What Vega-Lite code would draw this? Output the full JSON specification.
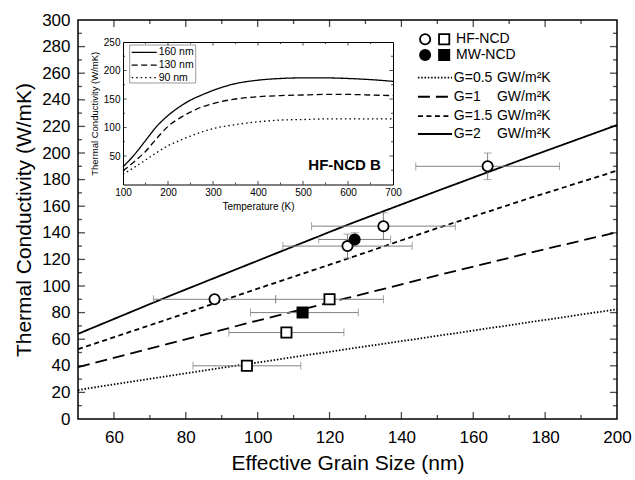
{
"$schema": "https://vega.github.io/schema/vega-lite/v6.json",
"width": 539, "height": 399,
"autosize": "none",
"padding": {"left": 78, "top": 20, "right": 18, "bottom": 61},
"background": "white",
"config": {"font": "Liberation Sans", "view": {"stroke": "black", "strokeWidth": 1.5},
  "axis": {"grid": false, "labelColor": "black", "titleColor": "black", "domainColor": "black", "tickColor": "black", "titleFontWeight": "normal", "labelOverlap": false}},
"datasets": {
 "glines": [
  {"g":"0.5","d":50,"k":21.8},{"g":"0.5","d":75,"k":32.3},{"g":"0.5","d":100,"k":42.5},{"g":"0.5","d":125,"k":52.6},{"g":"0.5","d":150,"k":62.5},{"g":"0.5","d":175,"k":72.5},{"g":"0.5","d":200,"k":82.5},
  {"g":"1","d":50,"k":39},{"g":"1","d":75,"k":56.5},{"g":"1","d":100,"k":74},{"g":"1","d":125,"k":91},{"g":"1","d":150,"k":108},{"g":"1","d":175,"k":124.5},{"g":"1","d":200,"k":140.4},
  {"g":"1.5","d":50,"k":52.5},{"g":"1.5","d":75,"k":75},{"g":"1.5","d":100,"k":98},{"g":"1.5","d":125,"k":120.5},{"g":"1.5","d":150,"k":143.5},{"g":"1.5","d":175,"k":165.5},{"g":"1.5","d":200,"k":186.7},
  {"g":"2","d":50,"k":64},{"g":"2","d":75,"k":92},{"g":"2","d":100,"k":119},{"g":"2","d":125,"k":146},{"g":"2","d":150,"k":171.5},{"g":"2","d":175,"k":196.5},{"g":"2","d":200,"k":221}
 ],
 "pts": [
  {"grp":"HF","shp":"circle","d":88,"k":90,"dlo":71,"dhi":105,"klo":87,"khi":93},
  {"grp":"HF","shp":"circle","d":125,"k":130,"dlo":107,"dhi":143,"klo":121,"khi":139},
  {"grp":"HF","shp":"circle","d":135,"k":145,"dlo":115,"dhi":155,"klo":135,"khi":155},
  {"grp":"HF","shp":"circle","d":164,"k":190,"dlo":144,"dhi":184,"klo":180,"khi":200},
  {"grp":"HF","shp":"square","d":97,"k":40,"dlo":82,"dhi":112,"klo":38,"khi":42},
  {"grp":"HF","shp":"square","d":108,"k":65,"dlo":92,"dhi":124,"klo":62,"khi":68},
  {"grp":"HF","shp":"square","d":120,"k":90,"dlo":105,"dhi":135,"klo":87,"khi":93},
  {"grp":"MW","shp":"circle","d":127,"k":135,"dlo":117,"dhi":137,"klo":130,"khi":140},
  {"grp":"MW","shp":"square","d":112.5,"k":80,"dlo":98,"dhi":128,"klo":77,"khi":83}
 ],
 "legpts": [
  {"grp":"HF","shp":"circle","d":146.6,"k":285.5},{"grp":"HF","shp":"square","d":151.9,"k":285.5},
  {"grp":"MW","shp":"circle","d":146.6,"k":273.7},{"grp":"MW","shp":"square","d":151.9,"k":273.7}
 ],
 "legtxt": [
  {"t":"HF-NCD","d":155.2,"k":285.5},{"t":"MW-NCD","d":155.2,"k":273.7},
  {"t":"G=0.5","d":154.6,"k":256.6},{"t":"GW/m²K","d":166.6,"k":256.6},
  {"t":"G=1","d":154.6,"k":242.3},{"t":"GW/m²K","d":166.6,"k":242.3},
  {"t":"G=1.5","d":154.6,"k":227.8},{"t":"GW/m²K","d":166.6,"k":227.8},
  {"t":"G=2","d":154.6,"k":214.3},{"t":"GW/m²K","d":166.6,"k":214.3}
 ],
 "legline": [
  {"g":"0.5","d":144.6,"k":256.6},{"g":"0.5","d":154.1,"k":256.6},
  {"g":"1","d":144.6,"k":242.3},{"g":"1","d":154.1,"k":242.3},
  {"g":"1.5","d":144.6,"k":227.8},{"g":"1.5","d":154.1,"k":227.8},
  {"g":"2","d":144.6,"k":214.3},{"g":"2","d":154.1,"k":214.3}
 ],
 "inset": [
  {"s":"160 nm","T":100,"k":31},{"s":"160 nm","T":125,"k":52},{"s":"160 nm","T":150,"k":77},{"s":"160 nm","T":175,"k":102},{"s":"160 nm","T":200,"k":121},{"s":"160 nm","T":225,"k":136},{"s":"160 nm","T":250,"k":148},{"s":"160 nm","T":275,"k":157},{"s":"160 nm","T":300,"k":165},{"s":"160 nm","T":350,"k":177},{"s":"160 nm","T":400,"k":183},{"s":"160 nm","T":450,"k":186},{"s":"160 nm","T":500,"k":187},{"s":"160 nm","T":550,"k":187},{"s":"160 nm","T":600,"k":186},{"s":"160 nm","T":650,"k":184},{"s":"160 nm","T":700,"k":181},
  {"s":"130 nm","T":100,"k":24},{"s":"130 nm","T":125,"k":40},{"s":"130 nm","T":150,"k":58},{"s":"130 nm","T":175,"k":81},{"s":"130 nm","T":200,"k":102},{"s":"130 nm","T":225,"k":116},{"s":"130 nm","T":250,"k":127},{"s":"130 nm","T":275,"k":136},{"s":"130 nm","T":300,"k":142},{"s":"130 nm","T":350,"k":150},{"s":"130 nm","T":400,"k":154},{"s":"130 nm","T":450,"k":156},{"s":"130 nm","T":500,"k":157},{"s":"130 nm","T":550,"k":158},{"s":"130 nm","T":600,"k":158},{"s":"130 nm","T":650,"k":157},{"s":"130 nm","T":700,"k":156},
  {"s":"90 nm","T":100,"k":18},{"s":"90 nm","T":125,"k":30},{"s":"90 nm","T":150,"k":43},{"s":"90 nm","T":175,"k":56},{"s":"90 nm","T":200,"k":68},{"s":"90 nm","T":225,"k":77},{"s":"90 nm","T":250,"k":85},{"s":"90 nm","T":275,"k":92},{"s":"90 nm","T":300,"k":98},{"s":"90 nm","T":350,"k":105},{"s":"90 nm","T":400,"k":110},{"s":"90 nm","T":450,"k":113},{"s":"90 nm","T":500,"k":114},{"s":"90 nm","T":550,"k":115},{"s":"90 nm","T":600,"k":115},{"s":"90 nm","T":650,"k":115},{"s":"90 nm","T":700,"k":115}
 ],
 "insetleg": [
  {"s":"160 nm","T":119.3,"k":231.9},{"s":"160 nm","T":174.9,"k":231.9},
  {"s":"130 nm","T":119.3,"k":209.6},{"s":"130 nm","T":174.9,"k":209.6},
  {"s":"90 nm","T":119.3,"k":187.4},{"s":"90 nm","T":174.9,"k":187.4}
 ],
 "insettxt": [{"t":"160 nm","T":179.3,"k":231.9},{"t":"130 nm","T":179.3,"k":209.6},{"t":"90 nm","T":179.3,"k":187.4}],
 "insetbox": [{"T1":114.9,"T2":261.6,"k1":178.1,"k2":244.7}],
 "insetlabel": [{"t":"HF-NCD B","T":673,"k":34}],
 "mxt": [{"v":60,"kind":"major"},{"v":80,"kind":"major"},{"v":100,"kind":"major"},{"v":120,"kind":"major"},{"v":140,"kind":"major"},{"v":160,"kind":"major"},{"v":180,"kind":"major"},
         {"v":70,"kind":"minor"},{"v":90,"kind":"minor"},{"v":110,"kind":"minor"},{"v":130,"kind":"minor"},{"v":150,"kind":"minor"},{"v":170,"kind":"minor"},{"v":190,"kind":"minor"}],
 "myt": [{"v":20,"kind":"major"},{"v":40,"kind":"major"},{"v":60,"kind":"major"},{"v":80,"kind":"major"},{"v":100,"kind":"major"},{"v":120,"kind":"major"},{"v":140,"kind":"major"},{"v":160,"kind":"major"},{"v":180,"kind":"major"},{"v":200,"kind":"major"},{"v":220,"kind":"major"},{"v":240,"kind":"major"},{"v":260,"kind":"major"},{"v":280,"kind":"major"},
         {"v":10,"kind":"minor"},{"v":30,"kind":"minor"},{"v":50,"kind":"minor"},{"v":70,"kind":"minor"},{"v":90,"kind":"minor"},{"v":110,"kind":"minor"},{"v":130,"kind":"minor"},{"v":150,"kind":"minor"},{"v":170,"kind":"minor"},{"v":190,"kind":"minor"},{"v":210,"kind":"minor"},{"v":230,"kind":"minor"},{"v":250,"kind":"minor"},{"v":270,"kind":"minor"},{"v":290,"kind":"minor"}],
 "ixt": [{"v":200,"kind":"major"},{"v":300,"kind":"major"},{"v":400,"kind":"major"},{"v":500,"kind":"major"},{"v":600,"kind":"major"},
         {"v":150,"kind":"minor"},{"v":250,"kind":"minor"},{"v":350,"kind":"minor"},{"v":450,"kind":"minor"},{"v":550,"kind":"minor"},{"v":650,"kind":"minor"}],
 "iyt": [{"v":50,"kind":"major"},{"v":100,"kind":"major"},{"v":150,"kind":"major"},{"v":200,"kind":"major"},
         {"v":25,"kind":"minor"},{"v":75,"kind":"minor"},{"v":125,"kind":"minor"},{"v":175,"kind":"minor"},{"v":225,"kind":"minor"}],
 "dummy": [{"v":100}]
},
"resolve": {"scale": {"x":"independent","y":"independent","strokeDash":"independent","shape":"independent","fill":"independent"}},
"layer": [
 {"data":{"name":"glines"},"mark":{"type":"line","strokeWidth":1.8,"color":"black"},
  "encoding":{
   "x":{"field":"d","type":"quantitative","scale":{"domain":[50,200],"nice":false,"zero":false},
        "axis":{"orient":"bottom","values":[60,80,100,120,140,160,180,200],"ticks":false,"domain":false,"labelFontSize":17,"labelPadding":10,"labelFlush":false,"title":"Effective Grain Size (nm)","titleFontSize":21,"titlePadding":7}},
   "y":{"field":"k","type":"quantitative","scale":{"domain":[0,300],"nice":false,"zero":false},
        "axis":{"orient":"left","values":[0,20,40,60,80,100,120,140,160,180,200,220,240,260,280,300],"ticks":false,"domain":false,"labelFontSize":17,"labelPadding":8,"title":"Thermal Conductivity (W/mK)","titleFontSize":21,"titlePadding":7}},
   "strokeDash":{"field":"g","type":"nominal","scale":{"domain":["0.5","1","1.5","2"],"range":[[1.5,1.8],[12,6],[5,3.5],[1,0]]},"legend":null}}},
 {"data":{"name":"mxt"},"transform":[{"filter":"datum.kind == 'major'"}],"mark":{"type":"tick","orient":"vertical","size":7,"thickness":1.3,"color":"black","yOffset":-3.5},
  "encoding":{"x":{"field":"v","type":"quantitative","scale":{"domain":[50,200],"nice":false,"zero":false},"axis":null},"y":{"datum":0,"type":"quantitative","scale":{"domain":[0,300],"nice":false,"zero":false},"axis":null}}},
 {"data":{"name":"mxt"},"transform":[{"filter":"datum.kind == 'minor'"}],"mark":{"type":"tick","orient":"vertical","size":4,"thickness":1.3,"color":"black","yOffset":-2},
  "encoding":{"x":{"field":"v","type":"quantitative","scale":{"domain":[50,200],"nice":false,"zero":false},"axis":null},"y":{"datum":0,"type":"quantitative","scale":{"domain":[0,300],"nice":false,"zero":false},"axis":null}}},
 {"data":{"name":"mxt"},"transform":[{"filter":"datum.kind == 'major'"}],"mark":{"type":"tick","orient":"vertical","size":7,"thickness":1.3,"color":"black","yOffset":3.5},
  "encoding":{"x":{"field":"v","type":"quantitative","scale":{"domain":[50,200],"nice":false,"zero":false},"axis":null},"y":{"datum":300,"type":"quantitative","scale":{"domain":[0,300],"nice":false,"zero":false},"axis":null}}},
 {"data":{"name":"mxt"},"transform":[{"filter":"datum.kind == 'minor'"}],"mark":{"type":"tick","orient":"vertical","size":4,"thickness":1.3,"color":"black","yOffset":2},
  "encoding":{"x":{"field":"v","type":"quantitative","scale":{"domain":[50,200],"nice":false,"zero":false},"axis":null},"y":{"datum":300,"type":"quantitative","scale":{"domain":[0,300],"nice":false,"zero":false},"axis":null}}},
 {"data":{"name":"myt"},"transform":[{"filter":"datum.kind == 'major'"}],"mark":{"type":"tick","orient":"horizontal","size":7,"thickness":1.3,"color":"black","xOffset":3.5},
  "encoding":{"y":{"field":"v","type":"quantitative","scale":{"domain":[0,300],"nice":false,"zero":false},"axis":null},"x":{"datum":50,"type":"quantitative","scale":{"domain":[50,200],"nice":false,"zero":false},"axis":null}}},
 {"data":{"name":"myt"},"transform":[{"filter":"datum.kind == 'minor'"}],"mark":{"type":"tick","orient":"horizontal","size":4,"thickness":1.3,"color":"black","xOffset":2},
  "encoding":{"y":{"field":"v","type":"quantitative","scale":{"domain":[0,300],"nice":false,"zero":false},"axis":null},"x":{"datum":50,"type":"quantitative","scale":{"domain":[50,200],"nice":false,"zero":false},"axis":null}}},
 {"data":{"name":"myt"},"transform":[{"filter":"datum.kind == 'major'"}],"mark":{"type":"tick","orient":"horizontal","size":7,"thickness":1.3,"color":"black","xOffset":-3.5},
  "encoding":{"y":{"field":"v","type":"quantitative","scale":{"domain":[0,300],"nice":false,"zero":false},"axis":null},"x":{"datum":200,"type":"quantitative","scale":{"domain":[50,200],"nice":false,"zero":false},"axis":null}}},
 {"data":{"name":"myt"},"transform":[{"filter":"datum.kind == 'minor'"}],"mark":{"type":"tick","orient":"horizontal","size":4,"thickness":1.3,"color":"black","xOffset":-2},
  "encoding":{"y":{"field":"v","type":"quantitative","scale":{"domain":[0,300],"nice":false,"zero":false},"axis":null},"x":{"datum":200,"type":"quantitative","scale":{"domain":[50,200],"nice":false,"zero":false},"axis":null}}},
 {"data":{"name":"pts"},"mark":{"type":"rule","color":"#808080","strokeWidth":1},
  "encoding":{
   "x":{"field":"dlo","type":"quantitative","scale":{"domain":[50,200],"nice":false,"zero":false},"axis":null},
   "x2":{"field":"dhi"},
   "y":{"field":"k","type":"quantitative","scale":{"domain":[0,300],"nice":false,"zero":false},"axis":null}}},
 {"data":{"name":"pts"},"transform":[{"fold":["dlo","dhi"],"as":["end","xe"]}],
  "mark":{"type":"tick","orient":"vertical","size":8,"thickness":1,"color":"#808080"},
  "encoding":{
   "x":{"field":"xe","type":"quantitative","scale":{"domain":[50,200],"nice":false,"zero":false},"axis":null},
   "y":{"field":"k","type":"quantitative","scale":{"domain":[0,300],"nice":false,"zero":false},"axis":null}}},
 {"data":{"name":"pts"},"mark":{"type":"rule","color":"#808080","strokeWidth":1},
  "encoding":{
   "x":{"field":"d","type":"quantitative","scale":{"domain":[50,200],"nice":false,"zero":false},"axis":null},
   "y":{"field":"klo","type":"quantitative","scale":{"domain":[0,300],"nice":false,"zero":false},"axis":null},
   "y2":{"field":"khi"}}},
 {"data":{"name":"pts"},"transform":[{"fold":["klo","khi"],"as":["end","ye"]}],
  "mark":{"type":"tick","orient":"horizontal","size":8,"thickness":1,"color":"#808080"},
  "encoding":{
   "x":{"field":"d","type":"quantitative","scale":{"domain":[50,200],"nice":false,"zero":false},"axis":null},
   "y":{"field":"ye","type":"quantitative","scale":{"domain":[0,300],"nice":false,"zero":false},"axis":null}}},
 {"data":{"name":"pts"},"mark":{"type":"point","filled":true,"stroke":"black","strokeWidth":1.8,"size":105,"opacity":1},
  "encoding":{
   "x":{"field":"d","type":"quantitative","scale":{"domain":[50,200],"nice":false,"zero":false},"axis":null},
   "y":{"field":"k","type":"quantitative","scale":{"domain":[0,300],"nice":false,"zero":false},"axis":null},
   "shape":{"field":"shp","type":"nominal","scale":{"domain":["circle","square"],"range":["circle","square"]},"legend":null},
   "fill":{"field":"grp","type":"nominal","scale":{"domain":["HF","MW"],"range":["white","black"]},"legend":null}}},
 {"data":{"name":"legpts"},"mark":{"type":"point","filled":true,"stroke":"black","strokeWidth":1.8,"size":105,"opacity":1},
  "encoding":{
   "x":{"field":"d","type":"quantitative","scale":{"domain":[50,200],"nice":false,"zero":false},"axis":null},
   "y":{"field":"k","type":"quantitative","scale":{"domain":[0,300],"nice":false,"zero":false},"axis":null},
   "shape":{"field":"shp","type":"nominal","scale":{"domain":["circle","square"],"range":["circle","square"]},"legend":null},
   "fill":{"field":"grp","type":"nominal","scale":{"domain":["HF","MW"],"range":["white","black"]},"legend":null}}},
 {"data":{"name":"legline"},"mark":{"type":"line","strokeWidth":1.8,"color":"black"},
  "encoding":{
   "x":{"field":"d","type":"quantitative","scale":{"domain":[50,200],"nice":false,"zero":false},"axis":null},
   "y":{"field":"k","type":"quantitative","scale":{"domain":[0,300],"nice":false,"zero":false},"axis":null},
   "strokeDash":{"field":"g","type":"nominal","scale":{"domain":["0.5","1","1.5","2"],"range":[[1.5,1.8],[12,6],[5,3.5],[1,0]]},"legend":null}}},
 {"data":{"name":"legtxt"},"mark":{"type":"text","align":"left","baseline":"middle","fontSize":14,"color":"black"},
  "encoding":{
   "x":{"field":"d","type":"quantitative","scale":{"domain":[50,200],"nice":false,"zero":false},"axis":null},
   "y":{"field":"k","type":"quantitative","scale":{"domain":[0,300],"nice":false,"zero":false},"axis":null},
   "text":{"field":"t"}}},
 {"data":{"name":"insetbox"},"mark":{"type":"rect","fill":"white","stroke":"#999999","strokeWidth":1},
  "encoding":{
   "x":{"field":"T1","type":"quantitative","scale":{"domain":[100,700],"range":[45,315],"nice":false,"zero":false},"axis":null},
   "x2":{"field":"T2"},
   "y":{"field":"k1","type":"quantitative","scale":{"domain":[0,250],"range":[164.5,22],"nice":false,"zero":false},"axis":null},
   "y2":{"field":"k2"}}},
 {"data":{"name":"inset"},"mark":{"type":"line","strokeWidth":1.3,"color":"black","interpolate":"monotone"},
  "encoding":{
   "x":{"field":"T","type":"quantitative","scale":{"domain":[100,700],"range":[45,315],"nice":false,"zero":false},
        "axis":{"orient":"bottom","offset":-234.5,"values":[100,200,300,400,500,600,700],"ticks":false,"domain":true,"domainWidth":1,"labelFontSize":10,"labelPadding":3,"labelFlush":false,"title":"Temperature (K)","titleFontSize":10,"titlePadding":4}},
   "y":{"field":"k","type":"quantitative","scale":{"domain":[0,250],"range":[164.5,22],"nice":false,"zero":false},
        "axis":{"orient":"left","offset":-45,"values":[50,100,150,200,250],"ticks":false,"domain":true,"domainWidth":1,"labelFontSize":10,"labelPadding":3,"title":"Thermal Conductivity (W/mK)","titleFontSize":9.5,"titlePadding":4}},
   "strokeDash":{"field":"s","type":"nominal","scale":{"domain":["160 nm","130 nm","90 nm"],"range":[[1,0],[6,3.5],[1.5,3]]},"legend":null}}},
 {"data":{"name":"dummy"},"mark":{"type":"point","opacity":0},
  "encoding":{
   "x":{"field":"v","type":"quantitative","scale":{"domain":[100,700],"range":[45,315],"nice":false,"zero":false},"axis":{"orient":"top","offset":-22,"values":[],"ticks":false,"labels":false,"domain":true,"domainWidth":1,"title":null}},
   "y":{"field":"v","type":"quantitative","scale":{"domain":[0,250],"range":[164.5,22],"nice":false,"zero":false},"axis":{"orient":"right","offset":-224,"values":[],"ticks":false,"labels":false,"domain":true,"domainWidth":1,"title":null}}}},
 {"data":{"name":"ixt"},"transform":[{"filter":"datum.kind == 'major'"}],"mark":{"type":"tick","orient":"vertical","size":3.5,"thickness":1,"color":"black","yOffset":-1.75},
  "encoding":{"x":{"field":"v","type":"quantitative","scale":{"domain":[100,700],"range":[45,315],"nice":false,"zero":false},"axis":null},"y":{"datum":0,"type":"quantitative","scale":{"domain":[0,250],"range":[164.5,22],"nice":false,"zero":false},"axis":null}}},
 {"data":{"name":"ixt"},"transform":[{"filter":"datum.kind == 'minor'"}],"mark":{"type":"tick","orient":"vertical","size":2,"thickness":1,"color":"black","yOffset":-1},
  "encoding":{"x":{"field":"v","type":"quantitative","scale":{"domain":[100,700],"range":[45,315],"nice":false,"zero":false},"axis":null},"y":{"datum":0,"type":"quantitative","scale":{"domain":[0,250],"range":[164.5,22],"nice":false,"zero":false},"axis":null}}},
 {"data":{"name":"ixt"},"transform":[{"filter":"datum.kind == 'major'"}],"mark":{"type":"tick","orient":"vertical","size":3.5,"thickness":1,"color":"black","yOffset":1.75},
  "encoding":{"x":{"field":"v","type":"quantitative","scale":{"domain":[100,700],"range":[45,315],"nice":false,"zero":false},"axis":null},"y":{"datum":250,"type":"quantitative","scale":{"domain":[0,250],"range":[164.5,22],"nice":false,"zero":false},"axis":null}}},
 {"data":{"name":"ixt"},"transform":[{"filter":"datum.kind == 'minor'"}],"mark":{"type":"tick","orient":"vertical","size":2,"thickness":1,"color":"black","yOffset":1},
  "encoding":{"x":{"field":"v","type":"quantitative","scale":{"domain":[100,700],"range":[45,315],"nice":false,"zero":false},"axis":null},"y":{"datum":250,"type":"quantitative","scale":{"domain":[0,250],"range":[164.5,22],"nice":false,"zero":false},"axis":null}}},
 {"data":{"name":"iyt"},"transform":[{"filter":"datum.kind == 'major'"}],"mark":{"type":"tick","orient":"horizontal","size":3.5,"thickness":1,"color":"black","xOffset":1.75},
  "encoding":{"y":{"field":"v","type":"quantitative","scale":{"domain":[0,250],"range":[164.5,22],"nice":false,"zero":false},"axis":null},"x":{"datum":100,"type":"quantitative","scale":{"domain":[100,700],"range":[45,315],"nice":false,"zero":false},"axis":null}}},
 {"data":{"name":"iyt"},"transform":[{"filter":"datum.kind == 'minor'"}],"mark":{"type":"tick","orient":"horizontal","size":2,"thickness":1,"color":"black","xOffset":1},
  "encoding":{"y":{"field":"v","type":"quantitative","scale":{"domain":[0,250],"range":[164.5,22],"nice":false,"zero":false},"axis":null},"x":{"datum":100,"type":"quantitative","scale":{"domain":[100,700],"range":[45,315],"nice":false,"zero":false},"axis":null}}},
 {"data":{"name":"iyt"},"transform":[{"filter":"datum.kind == 'major'"}],"mark":{"type":"tick","orient":"horizontal","size":3.5,"thickness":1,"color":"black","xOffset":-1.75},
  "encoding":{"y":{"field":"v","type":"quantitative","scale":{"domain":[0,250],"range":[164.5,22],"nice":false,"zero":false},"axis":null},"x":{"datum":700,"type":"quantitative","scale":{"domain":[100,700],"range":[45,315],"nice":false,"zero":false},"axis":null}}},
 {"data":{"name":"iyt"},"transform":[{"filter":"datum.kind == 'minor'"}],"mark":{"type":"tick","orient":"horizontal","size":2,"thickness":1,"color":"black","xOffset":-1},
  "encoding":{"y":{"field":"v","type":"quantitative","scale":{"domain":[0,250],"range":[164.5,22],"nice":false,"zero":false},"axis":null},"x":{"datum":700,"type":"quantitative","scale":{"domain":[100,700],"range":[45,315],"nice":false,"zero":false},"axis":null}}},
 {"data":{"name":"insetleg"},"mark":{"type":"line","strokeWidth":1.3,"color":"black"},
  "encoding":{
   "x":{"field":"T","type":"quantitative","scale":{"domain":[100,700],"range":[45,315],"nice":false,"zero":false},"axis":null},
   "y":{"field":"k","type":"quantitative","scale":{"domain":[0,250],"range":[164.5,22],"nice":false,"zero":false},"axis":null},
   "strokeDash":{"field":"s","type":"nominal","scale":{"domain":["160 nm","130 nm","90 nm"],"range":[[1,0],[6,3.5],[1.5,3]]},"legend":null}}},
 {"data":{"name":"insettxt"},"mark":{"type":"text","align":"left","baseline":"middle","fontSize":10.5,"color":"black"},
  "encoding":{
   "x":{"field":"T","type":"quantitative","scale":{"domain":[100,700],"range":[45,315],"nice":false,"zero":false},"axis":null},
   "y":{"field":"k","type":"quantitative","scale":{"domain":[0,250],"range":[164.5,22],"nice":false,"zero":false},"axis":null},
   "text":{"field":"t"}}},
 {"data":{"name":"insetlabel"},"mark":{"type":"text","align":"right","baseline":"middle","fontSize":15,"fontWeight":"bold","color":"black"},
  "encoding":{
   "x":{"field":"T","type":"quantitative","scale":{"domain":[100,700],"range":[45,315],"nice":false,"zero":false},"axis":null},
   "y":{"field":"k","type":"quantitative","scale":{"domain":[0,250],"range":[164.5,22],"nice":false,"zero":false},"axis":null},
   "text":{"field":"t"}}}
]
}
